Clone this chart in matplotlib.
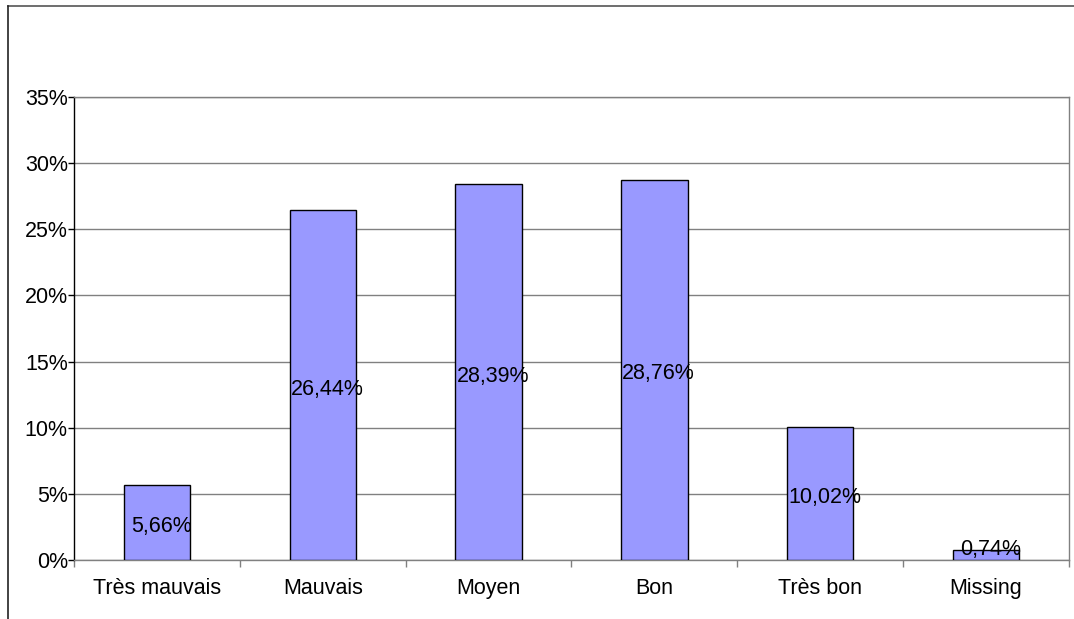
import matplotlib
matplotlib.use("Agg")
import matplotlib.pyplot as plt
from matplotlib.lines import Line2D
from matplotlib.ticker import FixedLocator, FuncFormatter

categories = ["Très mauvais", "Mauvais", "Moyen", "Bon", "Très bon", "Missing"]
values = [5.66, 26.44, 28.39, 28.76, 10.02, 0.74]
labels = ["5,66%", "26,44%", "28,39%", "28,76%", "10,02%", "0,74%"]
yticks = [0, 5, 10, 15, 20, 25, 30, 35]

plt.rcParams['font.family'] = ['Liberation Sans', 'DejaVu Sans']
FS = 15.5

fig = plt.figure(figsize=(10.74, 6.19), dpi=100)
ax = fig.add_axes([74/1074, 1 - 560/619, (1069-74)/1074, (560-97)/619])

x = list(range(len(categories)))
ax.bar(x, values, width=0.4, color="#9999FF", edgecolor="black", linewidth=1.0, zorder=3)

for xi, v, lab in zip(x, values, labels):
    ax.annotate(lab, (xi, max(v / 2, 1.1)), xytext=(3, -3), textcoords="offset points",
                ha="center", va="center", fontsize=FS, color="black", zorder=4)

ax.set_xlim(-0.5, len(categories) - 0.5)
ax.set_ylim(0, 35)
ax.set_yticks(yticks)
ax.yaxis.set_major_formatter(FuncFormatter(lambda v, p: f"{int(v)}%"))
ax.grid(axis="y", color="#808080", linewidth=1.0, zorder=1)

ax.xaxis.set_major_locator(FixedLocator([i - 0.5 for i in range(len(categories) + 1)]))
ax.xaxis.set_minor_locator(FixedLocator(x))
ax.set_xticklabels([])
ax.set_xticklabels(categories, minor=True)
ax.tick_params(axis="x", which="major", length=5, width=1, color="#808080", direction="out")
ax.tick_params(axis="x", which="minor", length=0, pad=13, labelsize=FS)
ax.tick_params(axis="y", length=4, width=1, color="black", direction="out", pad=0.5, labelsize=FS)

ax.spines["left"].set_color("black")
ax.spines["bottom"].set_color("#808080")
ax.spines["top"].set_color("#808080")
ax.spines["right"].set_color("#808080")
for s in ax.spines.values():
    s.set_linewidth(1.0)

# outer chart border
fig.add_artist(Line2D([8/1074, 1.0], [1 - 6/619, 1 - 6/619], color="#555555", linewidth=1.2, transform=fig.transFigure))
fig.add_artist(Line2D([8/1074, 8/1074], [0.0, 1 - 6/619], color="#222222", linewidth=1.2, transform=fig.transFigure))

fig.savefig("out.png", dpi=100)
